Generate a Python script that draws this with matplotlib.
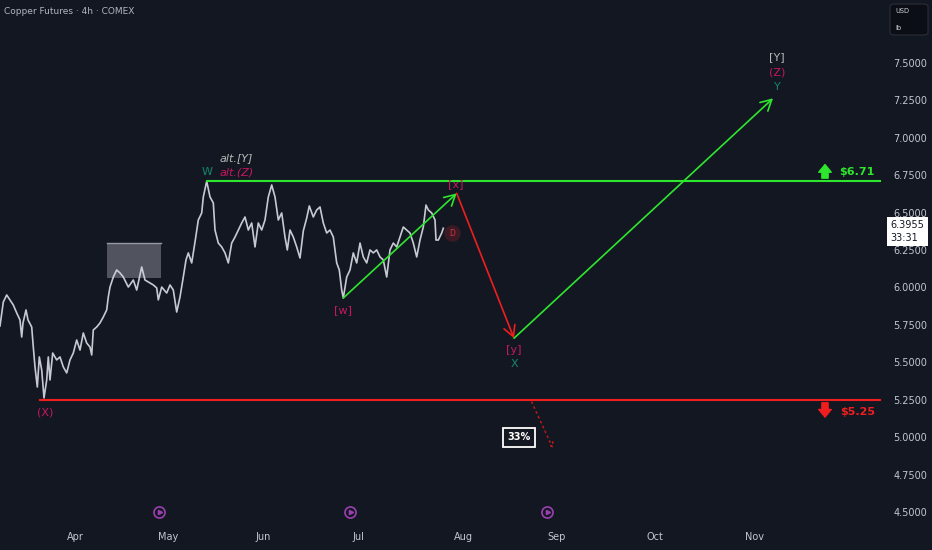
import matplotlib.pyplot as plt
import matplotlib.transforms as mtransforms
from matplotlib.patches import Rectangle, FancyBboxPatch

# price path (x in chart bar units, close in USD/lb)
bar = [0, 3.3, 6.7, 10, 13.3, 16.7, 20, 21.7, 23, 26, 28, 31.7, 33.3, 35, 37.3, 39.3,
       41.7, 44, 46.7, 48.3, 50, 52.7, 56.7, 60, 63.3, 66.7, 70, 73.3, 76.7, 80, 83.3,
       86.7, 90, 91.7, 93.3, 96.7, 100, 103.3, 106.7, 108.3, 110, 113.3, 116.7, 120,
       123.3, 128.3, 133.3, 136.7, 141.7, 145, 150, 153.3, 156.7, 158.3, 161.7, 166.7,
       170, 173.3, 176.7, 180, 183.3, 186, 188.3, 191.7, 195, 198.3, 201.7, 203.3,
       206.7, 210, 213.3, 215, 218.3, 221.7, 225, 228.3, 231.7, 235, 238.3, 241.7, 245,
       248.3, 251.7, 255, 258.3, 261.7, 265, 268.3, 271.7, 275, 278.3, 281.7, 285,
       287.3, 290, 293.3, 296.7, 300, 303.3, 306.7, 309.3, 313.3, 316.7, 320, 323.3,
       326.7, 330, 333.3, 335, 336.7, 339.3, 341.7, 343.3, 346.7, 350, 353.3, 356.7,
       360, 363.3, 366.7, 370, 373.3, 376.7, 380, 383.3, 386.7, 390, 393.3, 396.7, 400,
       403.3, 406.7, 410, 413.3, 416.7, 420, 423.3, 426, 428.3, 431.7, 435, 436, 438.3,
       441.7, 443.3]
close = [5.743, 5.903, 5.950, 5.917, 5.883, 5.830, 5.783, 5.669, 5.763, 5.850, 5.783,
         5.736, 5.602, 5.469, 5.335, 5.536, 5.449, 5.262, 5.382, 5.536, 5.382, 5.562,
         5.516, 5.536, 5.469, 5.429, 5.516, 5.562, 5.649, 5.582, 5.696, 5.629, 5.602,
         5.549, 5.716, 5.736, 5.763, 5.803, 5.850, 5.937, 6.003, 6.070, 6.117, 6.097,
         6.070, 6.003, 6.050, 5.983, 6.137, 6.050, 6.030, 6.017, 5.997, 5.917, 6.003,
         5.963, 6.017, 5.983, 5.836, 5.937, 6.070, 6.184, 6.231, 6.164, 6.304, 6.451,
         6.498, 6.605, 6.710, 6.605, 6.565, 6.384, 6.297, 6.271, 6.231, 6.164, 6.297,
         6.337, 6.384, 6.431, 6.471, 6.384, 6.431, 6.271, 6.431, 6.384, 6.451, 6.605,
         6.685, 6.605, 6.451, 6.498, 6.337, 6.251, 6.384, 6.337, 6.271, 6.197, 6.378,
         6.464, 6.545, 6.471, 6.518, 6.538, 6.431, 6.364, 6.384, 6.337, 6.251, 6.164,
         6.117, 5.983, 5.930, 6.070, 6.117, 6.231, 6.164, 6.297, 6.204, 6.164, 6.251,
         6.231, 6.251, 6.204, 6.184, 6.070, 6.251, 6.297, 6.271, 6.337, 6.404, 6.384,
         6.364, 6.297, 6.204, 6.317, 6.404, 6.551, 6.518, 6.498, 6.451, 6.317, 6.317,
         6.364, 6.396]

months = ['Apr', 'May', 'Jun', 'Jul', 'Aug', 'Sep', 'Oct', 'Nov']
month_bar = [75, 168, 263, 358, 463, 557, 655, 755]
price_ticks = [4.5, 4.75, 5.0, 5.25, 5.5, 5.75, 6.0, 6.25, 6.5, 6.75, 7.0, 7.25, 7.5]

# elliott wave projection: [w] -> [x] -> [y] -> target
wave_bar = [343.3, 456.7, 514, 773]
wave_price = [5.930, 6.629, 5.661, 7.264]
resistance = 6.71
support = 5.25
w_bar = 206.7
x_bar = 40
level_end = 880
tag_bar = 825
box_bar = [107, 161]
box_price = [6.066, 6.295]
bear_bar = [531.7, 552.7]
bear_price = [5.235, 4.928]
bear_pct = '33%'
last_price = 6.3955
countdown = '33:31'
d_bar, d_price = 452, 6.364
event_bar = [159, 350, 547]

BG = '#131722'
TXT = '#b2b5be'
GREEN = '#2ee62e'
RED = '#f01e1e'
PINK = '#c8175d'
TEAL = '#14876c'
GREY = '#b4bcb6'

plt.rcParams['font.family'] = ['DejaVu Sans']
fig = plt.figure(figsize=(9.32, 5.5), dpi=100, facecolor=BG)
ax = fig.add_axes([0, 28 / 550, 885 / 932, 522 / 550], facecolor=BG)
ax.set_xlim(0, 885)
ax.set_ylim(4.433, 7.921)
for s in ax.spines.values():
    s.set_visible(False)

ax.yaxis.tick_right()
ax.set_yticks(price_ticks)
ax.set_yticklabels(['%.4f' % p for p in price_ticks])
ax.tick_params(axis='y', length=0, pad=6, labelsize=7, labelcolor='#c3c6ce')
ax.set_xticks(month_bar)
ax.set_xticklabels(months)
ax.tick_params(axis='x', length=0, pad=7, labelsize=7, labelcolor='#c3c6ce')

# consolidation box
ax.add_patch(Rectangle((box_bar[0], box_price[0]), box_bar[1] - box_bar[0],
                       box_price[1] - box_price[0], facecolor='#5d606b', alpha=0.85,
                       edgecolor='none', zorder=2))
ax.plot(box_bar, [box_price[1], box_price[1]], color='#9598a1', lw=1, zorder=2)

# price
ax.plot(bar, close, color='#d1d4dc', lw=1.2, zorder=3, alpha=0.95)

# key levels
ax.plot([w_bar, level_end], [resistance, resistance], color=GREEN, lw=1.5, zorder=4)
ax.plot([x_bar, level_end], [support, support], color=RED, lw=1.5, zorder=4)

ar = dict(arrowstyle='->,head_length=0.55,head_width=0.3', lw=1.2, shrinkA=0, shrinkB=0,
          mutation_scale=14)
ax.annotate('', xy=(wave_bar[1], wave_price[1]), xytext=(wave_bar[0], wave_price[0]),
            arrowprops=dict(ar, color=GREEN), zorder=5)
ax.annotate('', xy=(wave_bar[2], wave_price[2]), xytext=(wave_bar[1], wave_price[1]),
            arrowprops=dict(ar, color=RED), zorder=5)
ax.annotate('', xy=(wave_bar[3], wave_price[3]), xytext=(wave_bar[2], wave_price[2]),
            arrowprops=dict(ar, color=GREEN), zorder=5)
ax.annotate('', xy=(bear_bar[1], bear_price[1]), xytext=(bear_bar[0], bear_price[0]),
            arrowprops=dict(arrowstyle='->,head_length=0.3,head_width=0.2', lw=1.1,
                            color='#c21818', linestyle=(0, (1, 2.5)), shrinkA=0,
                            shrinkB=0, mutation_scale=10), zorder=5)


def lab(xv, yv, s, dx, dy, color, **kw):
    ax.annotate(s, xy=(xv, yv), xytext=(dx, dy), textcoords='offset points',
                ha=kw.pop('ha', 'center'), va='center', color=color, fontsize=8, zorder=6,
                **kw)


lab(x_bar + 5, support, '(X)', 0, -9.5, PINK)
lab(w_bar, resistance, 'W', 0, 7, TEAL)
lab(w_bar, resistance, 'alt.[Y]', 9, 16.5, GREY, ha='left', style='italic')
lab(w_bar, resistance, 'alt.(Z)', 9, 6.5, PINK, ha='left', style='italic')
lab(wave_bar[0], wave_price[0], '[w]', 0, -9, PINK)
lab(wave_bar[1], wave_price[1], '[x]', -1, 7, PINK)
lab(wave_bar[2], wave_price[2], '[y]', 0, -8.5, PINK)
lab(wave_bar[2], wave_price[2], 'X', 0, -18.5, TEAL)
lab(wave_bar[3], wave_price[3], '[Y]', 3, 29.5, GREY)
lab(wave_bar[3], wave_price[3], '(Z)', 3, 18.5, PINK)
lab(wave_bar[3], wave_price[3], 'Y', 3, 8, TEAL)

# D marker
ax.plot(d_bar, d_price, 'o', ms=11, color='#3a1a24', zorder=5)
ax.text(d_bar, d_price, 'D', color='#e0323c', fontsize=5.5, ha='center', va='center',
        zorder=6)

# probability box
ax.text(wave_bar[2] + 5, 5.0, bear_pct, color='white', fontsize=7, fontweight='bold',
        ha='center', va='center', zorder=6,
        bbox=dict(boxstyle='square,pad=0.45', facecolor=BG, edgecolor='white', lw=1.3))

# level tags
ax.annotate('$6.71', xy=(level_end - 5, resistance), xytext=(0, 7), textcoords='offset points',
            ha='right', va='center', color=GREEN, fontsize=8, fontweight='bold', zorder=6)
ax.annotate('$5.25', xy=(level_end - 5, support), xytext=(0, -8.5), textcoords='offset points',
            ha='right', va='center', color=RED, fontsize=8, fontweight='bold', zorder=6)

simple = dict(arrowstyle='simple,head_width=0.9,head_length=0.55,tail_width=0.45',
              shrinkA=0, shrinkB=0, mutation_scale=10)


def shifted(dy):
    return mtransforms.offset_copy(ax.transData, fig=fig, x=0, y=dy, units='points')


ax.annotate('', xy=(tag_bar, resistance), xycoords=shifted(12),
            xytext=(tag_bar, resistance), textcoords=shifted(2.2),
            arrowprops=dict(simple, color=GREEN), zorder=6)
ax.annotate('', xy=(tag_bar, support), xycoords=shifted(-12.5),
            xytext=(tag_bar, support), textcoords=shifted(-2.2),
            arrowprops=dict(simple, color=RED), zorder=6)

# event icons along the time axis
evt = mtransforms.blended_transform_factory(ax.transData, ax.transAxes)
for eb in event_bar:
    ax.plot(eb, 0.019, 'o', ms=8, mfc='none', mec='#9b3fb0', mew=1.2, transform=evt,
            zorder=6, clip_on=False)
    ax.plot(eb + 1, 0.019, '>', ms=3, color='#9b3fb0', transform=evt, zorder=6,
            clip_on=False)

# last price tag
side = mtransforms.blended_transform_factory(ax.transAxes, ax.transData)
ax.annotate('%.4f\n%s' % (last_price, countdown), xy=(1.006, last_price), xycoords=side,
            xytext=(0, 6), textcoords='offset points', ha='left', va='top',
            fontsize=7, color='#131722', linespacing=1.35, zorder=7, annotation_clip=False,
            bbox=dict(boxstyle='square,pad=0.35', facecolor='white', edgecolor='none'))

fig.text(4 / 932, 1 - 11 / 550, 'Copper Futures · 4h · COMEX', color=TXT, fontsize=6.5,
         ha='left', va='center')
fig.patches.append(FancyBboxPatch((890 / 932, 1 - 35 / 550), 38 / 932, 31 / 550,
                                  boxstyle='round,pad=0,rounding_size=0.005',
                                  transform=fig.transFigure, facecolor='#0c0e15',
                                  edgecolor='#2a2e39', lw=0.8))
fig.text(895 / 932, 1 - 11 / 550, 'USD', color='#d1d4dc', fontsize=4.8, ha='left', va='center')
fig.text(895 / 932, 1 - 28 / 550, 'lb', color='#d1d4dc', fontsize=4.8, ha='left', va='center')

fig.savefig('out.png', dpi=100, facecolor=BG)
